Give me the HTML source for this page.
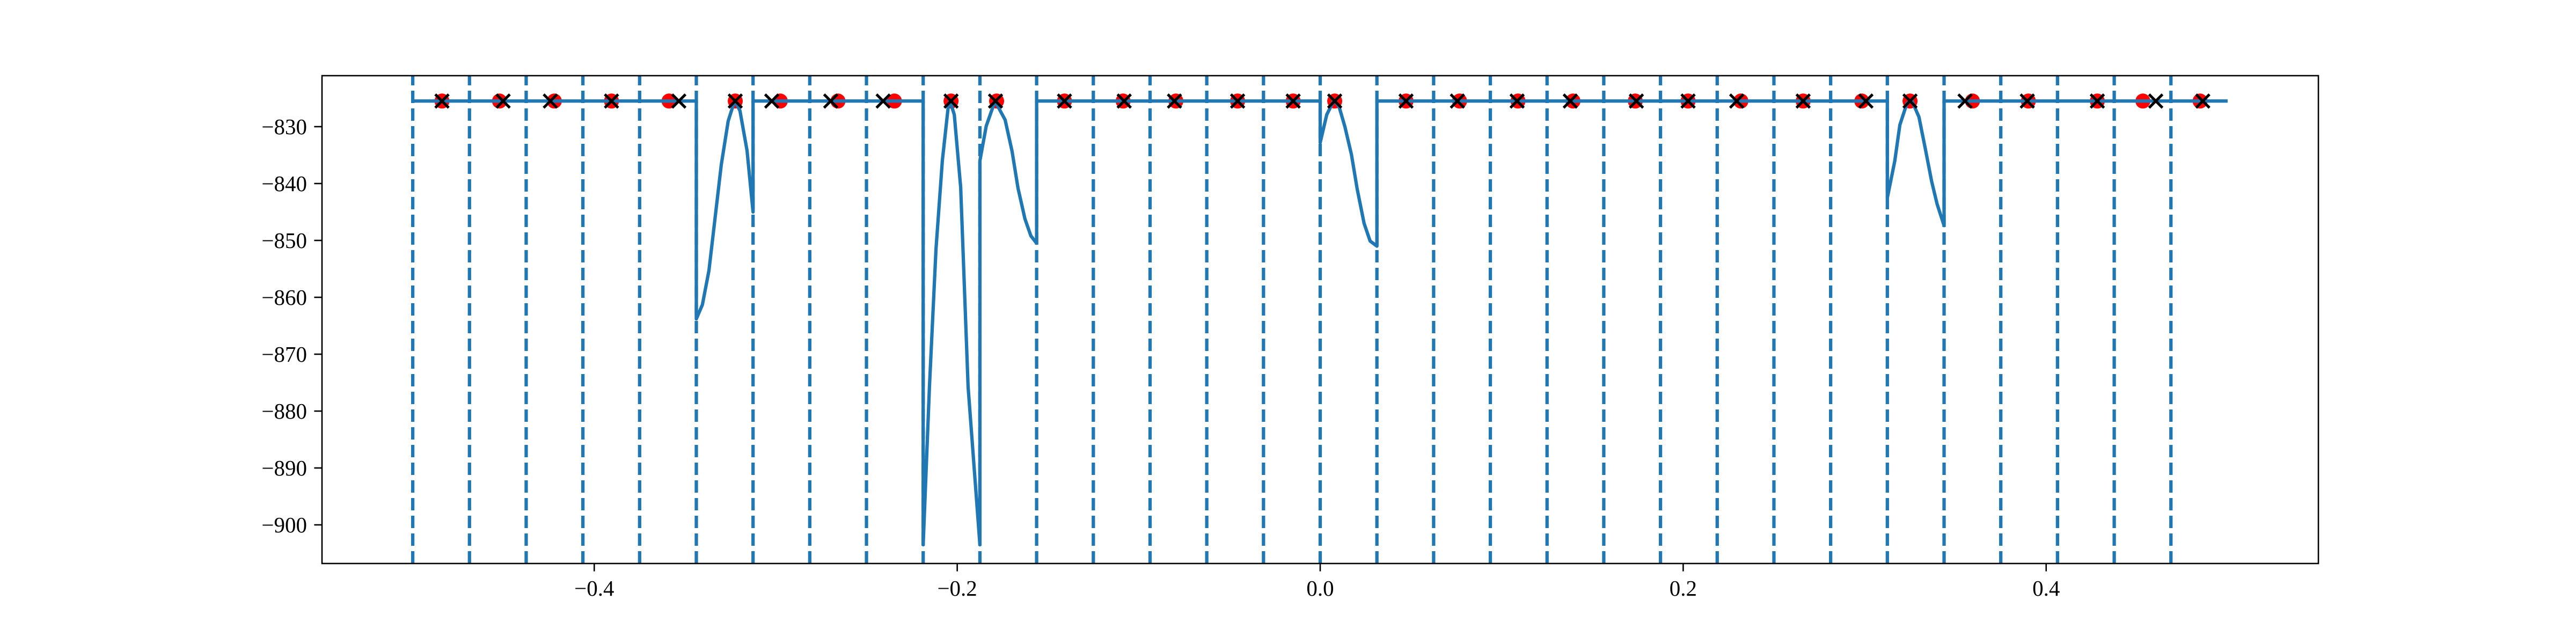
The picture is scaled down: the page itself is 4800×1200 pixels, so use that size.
<!DOCTYPE html>
<html><head><meta charset="utf-8"><style>html,body{margin:0;padding:0;background:#fff}svg{display:block}text{font-family:"Liberation Serif","DejaVu Serif",serif;font-size:41px;fill:#000}</style></head>
<body>
<svg id="chart" width="4800" height="1200" viewBox="0 0 4800 1200" xmlns="http://www.w3.org/2000/svg">
<rect x="0" y="0" width="4800" height="1200" fill="#fff"/>
<g id="grid"></g>
<g id="circles"></g>
<g id="lines"></g>
<g id="xs"></g>
<g id="axes"></g>
</svg>
<script>
const xTicks = [-0.4, -0.2, 0.0, 0.2, 0.4];
const xTickLabels = ["\u22120.4", "\u22120.2", "0.0", "0.2", "0.4"];
const yTicks = [-830, -840, -850, -860, -870, -880, -890, -900];
const yTickLabels = ["\u2212830", "\u2212840", "\u2212850", "\u2212860", "\u2212870", "\u2212880", "\u2212890", "\u2212900"];
const boundaries = [-0.5,-0.46875,-0.4375,-0.40625,-0.375,-0.34375,-0.3125,-0.28125,-0.25,-0.21875,-0.1875,-0.15625,-0.125,-0.09375,-0.0625,-0.03125,0,0.03125,0.0625,0.09375,0.125,0.15625,0.1875,0.21875,0.25,0.28125,0.3125,0.34375,0.375,0.40625,0.4375,0.46875];
const circleX = [-0.4839,-0.4522,-0.4220,-0.3905,-0.3588,-0.3223,-0.2975,-0.2657,-0.2346,-0.2034,-0.1783,-0.1409,-0.1086,-0.0795,-0.0455,-0.0149,0.0080,0.0473,0.0768,0.1090,0.1393,0.1736,0.2027,0.2318,0.2661,0.2984,0.3250,0.3594,0.3902,0.4282,0.4533,0.4848];
const circleY = -825.5;
const crossX = [-0.4839,-0.4502,-0.4242,-0.3905,-0.3534,-0.3223,-0.3022,-0.2697,-0.2408,-0.2034,-0.1789,-0.1409,-0.1080,-0.0803,-0.0455,-0.0149,0.0080,0.0473,0.0756,0.1085,0.1378,0.1742,0.2027,0.2295,0.2661,0.3007,0.3250,0.3553,0.3896,0.4282,0.4604,0.4863];
const crossY = -825.5;
const lineX = [-0.5,-0.34375,
 -0.34375,-0.3404,-0.3368,-0.3300,-0.3262,-0.3226,-0.3197,-0.3158,-0.3125,
 -0.3125,-0.21875,
 -0.21875,-0.2153,-0.2117,-0.2082,-0.2049,-0.2040,-0.2016,-0.1981,-0.1940,-0.1875,
 -0.1875,-0.1840,-0.1792,-0.1736,-0.1698,-0.1665,-0.1627,-0.1594,-0.15625,
 -0.15625,0,
 0,0.0036,0.0077,0.0104,0.0136,0.0172,0.0204,0.0242,0.0275,0.03125,
 0.03125,0.3125,
 0.3125,0.3166,0.3194,0.3233,0.3261,0.3299,0.3336,0.3369,0.3399,0.34375,
 0.34375,0.5];
const lineY = [-825.5,-825.5,
 -863.8,-861.3,-855.3,-836.7,-829,-825.4,-827.2,-834.2,-845,
 -825.5,-825.5,
 -903.5,-875.7,-851.5,-836,-826.3,-825.5,-827.9,-840.7,-875.7,-903.5,
 -836,-829.9,-825.5,-828.8,-834.3,-840.8,-846.2,-849.2,-850.5,
 -825.5,-825.5,
 -832.8,-827.9,-825.3,-826.5,-830,-834.9,-841,-847,-850.1,-851,
 -825.5,-825.5,
 -842.5,-836,-829.7,-825.9,-825.5,-828.3,-834.2,-839.6,-843.6,-847.4,
 -825.5,-825.5];

const L=600,R=4320,T=141,B=1050;
const xs = v => 2460 + 3381.8*v;
const ys = v => 236 + (-830 - v)*10.6;
const NS="http://www.w3.org/2000/svg";
function mk(tag, parent, attrs){const e=document.createElementNS(NS,tag);for(const k in attrs)e.setAttribute(k,attrs[k]);parent.appendChild(e);return e;}
const grid=document.getElementById('grid'), circ=document.getElementById('circles'), lines=document.getElementById('lines'), xg=document.getElementById('xs'), axes=document.getElementById('axes');

boundaries.forEach(b=>{
  const l=mk('line',grid,{x1:xs(b),x2:xs(b),y1:B,y2:T,stroke:'#1f77b4','stroke-width':6.25,'stroke-dasharray':'23 10'});
  
  
});
circleX.forEach(v=>{
  const c=mk('circle',circ,{cx:xs(v),cy:ys(circleY),r:14,fill:'#ff0000'});
  
  
});
let d='';
lineX.forEach((v,i)=>{d+=(i?'L':'M')+xs(v).toFixed(1)+','+ys(lineY[i]).toFixed(1);});
const p=mk('path',lines,{d:d,fill:'none',stroke:'#1f77b4','stroke-width':6.25,'stroke-linejoin':'round'});


crossX.forEach(v=>{
  const cx=xs(v), cy=ys(crossY), s=12.5;
  const g=mk('path',xg,{d:`M${cx-s},${cy-s}L${cx+s},${cy+s}M${cx-s},${cy+s}L${cx+s},${cy-s}`,stroke:'#000','stroke-width':5,fill:'none'});
  
  
});
const fr=mk('rect',axes,{x:L,y:T,width:R-L,height:B-T,fill:'none',stroke:'#000','stroke-width':2.6});


xTicks.forEach((v,i)=>{
  const t=mk('line',axes,{x1:xs(v),x2:xs(v),y1:B,y2:B+14.6,stroke:'#000','stroke-width':2.6});
  
  
  const tx=mk('text',axes,{x:xs(v),y:B+60,'text-anchor':'middle'});
  tx.textContent=xTickLabels[i];
  
  
});
yTicks.forEach((v,i)=>{
  const t=mk('line',axes,{x1:L-14.6,x2:L,y1:ys(v),y2:ys(v),stroke:'#000','stroke-width':2.6});
  
  
  const tx=mk('text',axes,{x:L-28,y:ys(v)+14,'text-anchor':'end'});
  tx.textContent=yTickLabels[i];
  
  
});
</script>
</body></html>
